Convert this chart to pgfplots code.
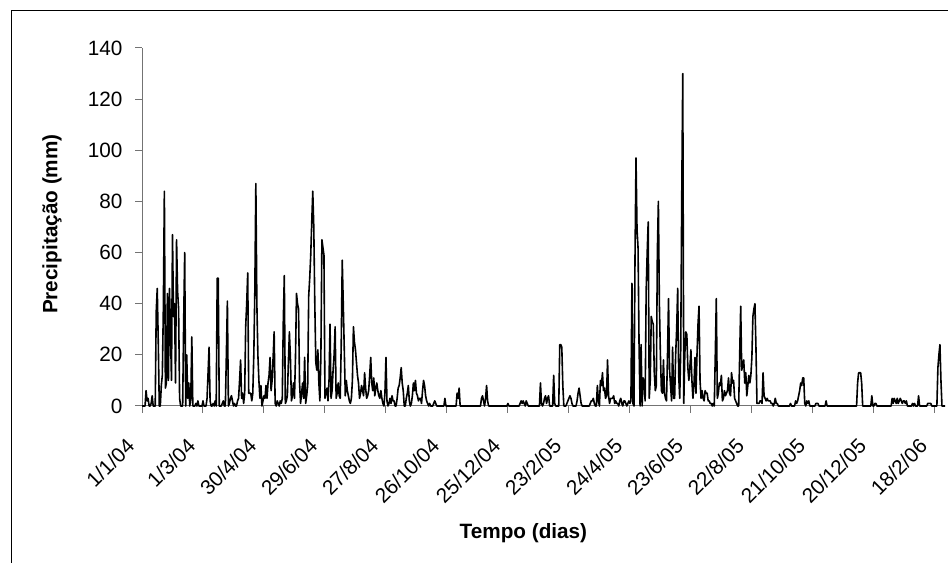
\documentclass[border=0pt]{standalone}
\usepackage{fontspec}
\setmainfont{Liberation Sans}
\usepackage{pgfplots}
\usepackage{pgfplotstable}
\pgfplotsset{compat=1.18}
% daily precipitation (mm), one value per day starting 1/1/04
\pgfplotstableread[row sep=\\]{mm\\
0\\0\\0\\0\\6\\2\\3\\0\\0\\1\\
4\\0\\0\\0\\37\\46\\25\\0\\0\\8\\
12\\38\\84\\7\\9\\44\\10\\46\\30\\10\\
67\\35\\40\\9\\65\\45\\38\\3\\0\\0\\
0\\33\\60\\0\\20\\3\\9\\0\\3\\27\\
0\\0\\0\\1\\0\\2\\0\\0\\0\\0\\
2\\0\\0\\0\\3\\13\\23\\2\\0\\0\\
1\\0\\2\\0\\50\\50\\0\\0\\0\\1\\
2\\0\\0\\20\\41\\0\\1\\3\\4\\2\\
0\\1\\0\\0\\2\\3\\10\\18\\3\\5\\
1\\5\\31\\40\\52\\5\\5\\5\\2\\5\\
20\\45\\87\\40\\20\\10\\3\\8\\0\\2\\
4\\3\\8\\3\\9\\12\\19\\6\\10\\19\\
29\\1\\0\\2\\1\\0\\2\\1\\3\\33\\
51\\1\\2\\4\\17\\29\\19\\2\\4\\9\\
3\\19\\44\\40\\38\\9\\1\\5\\9\\3\\
19\\1\\4\\8\\43\\50\\59\\72\\84\\70\\
40\\17\\14\\22\\9\\2\\20\\65\\62\\59\\
3\\5\\7\\2\\10\\32\\3\\6\\14\\20\\
31\\3\\5\\9\\4\\3\\24\\57\\40\\22\\
4\\10\\6\\4\\2\\1\\3\\10\\31\\25\\
22\\17\\12\\9\\3\\5\\8\\6\\4\\13\\
7\\3\\4\\6\\12\\19\\9\\6\\11\\4\\
7\\9\\6\\4\\3\\6\\3\\1\\0\\5\\
19\\2\\0\\1\\3\\1\\4\\2\\2\\0\\
0\\3\\7\\8\\11\\15\\9\\6\\0\\0\\
3\\5\\8\\2\\0\\1\\4\\9\\6\\10\\
5\\4\\2\\3\\3\\1\\6\\10\\8\\4\\
2\\1\\0\\1\\0\\0\\0\\1\\2\\1\\
0\\0\\0\\0\\0\\0\\0\\0\\3\\0\\
0\\0\\0\\0\\0\\0\\0\\0\\0\\0\\
5\\3\\7\\0\\0\\0\\0\\0\\0\\0\\
0\\0\\0\\0\\0\\0\\0\\0\\0\\0\\
0\\0\\0\\0\\3\\4\\2\\0\\3\\8\\
2\\0\\0\\0\\0\\0\\0\\0\\0\\0\\
0\\0\\0\\0\\0\\0\\0\\0\\0\\0\\
1\\0\\0\\0\\0\\0\\0\\0\\0\\0\\
0\\0\\1\\2\\1\\2\\1\\0\\2\\1\\
0\\0\\0\\0\\0\\0\\0\\0\\0\\0\\
0\\0\\9\\1\\0\\1\\3\\4\\1\\3\\
4\\0\\0\\0\\0\\12\\1\\0\\0\\0\\
0\\24\\24\\23\\8\\0\\0\\0\\1\\2\\
3\\4\\3\\1\\0\\0\\0\\0\\2\\5\\
7\\4\\1\\0\\0\\0\\0\\0\\0\\0\\
0\\1\\2\\2\\3\\1\\0\\0\\8\\2\\
0\\10\\8\\13\\6\\7\\3\\4\\18\\4\\
1\\3\\3\\3\\4\\1\\2\\1\\1\\0\\
2\\3\\1\\0\\2\\2\\1\\0\\1\\2\\
1\\2\\48\\1\\0\\57\\97\\69\\62\\24\\
0\\24\\0\\11\\9\\2\\45\\60\\72\\3\\
10\\35\\33\\32\\13\\6\\8\\60\\80\\40\\
20\\6\\5\\18\\5\\3\\2\\20\\42\\14\\
8\\2\\23\\3\\3\\20\\30\\46\\12\\3\\
22\\82\\130\\1\\20\\29\\28\\15\\10\\15\\
22\\10\\3\\8\\19\\5\\20\\32\\39\\10\\
3\\6\\3\\2\\6\\5\\5\\2\\2\\1\\
1\\0\\1\\0\\20\\42\\3\\5\\9\\8\\
12\\2\\3\\6\\4\\5\\6\\11\\5\\4\\
13\\9\\10\\3\\2\\1\\0\\0\\20\\39\\
14\\16\\18\\9\\13\\4\\8\\12\\9\\12\\
19\\35\\38\\40\\23\\1\\1\\1\\2\\2\\
1\\13\\4\\3\\2\\3\\2\\2\\2\\1\\
1\\0\\1\\3\\1\\1\\0\\0\\0\\0\\
0\\0\\0\\0\\0\\0\\0\\0\\1\\0\\
0\\0\\0\\2\\1\\2\\4\\6\\9\\8\\
11\\11\\1\\0\\2\\1\\2\\0\\0\\0\\
0\\0\\0\\1\\1\\1\\0\\0\\0\\0\\
0\\0\\0\\2\\0\\0\\0\\0\\0\\0\\
0\\0\\0\\0\\0\\0\\0\\0\\0\\0\\
0\\0\\0\\0\\0\\0\\0\\0\\0\\0\\
0\\0\\0\\0\\9\\13\\13\\13\\9\\0\\
0\\0\\0\\0\\0\\0\\0\\0\\4\\0\\
0\\1\\1\\0\\0\\0\\0\\0\\0\\0\\
0\\0\\0\\0\\0\\0\\0\\0\\3\\1\\
3\\2\\1\\3\\1\\2\\3\\2\\1\\2\\
2\\1\\2\\0\\0\\0\\0\\0\\1\\0\\
1\\0\\0\\0\\4\\0\\0\\0\\0\\0\\
0\\0\\0\\1\\1\\1\\1\\0\\0\\0\\
0\\0\\0\\15\\20\\24\\10\\0\\0\\0\\
0\\
}\rain
\begin{document}
\begin{tikzpicture}[x=1bp,y=1bp]
\useasboundingbox (0,0) rectangle (948,563);
\draw[line width=1bp, black] (11,0) -- (11,552) -- (948,552);
\begin{axis}[
  at={(142bp,157bp)}, anchor=south west,
  scale only axis, width=803bp, height=358bp,
  xmin=0, xmax=790, ymin=0, ymax=140,
  axis x line=bottom, axis y line=left,
  axis line style={-, draw=gray!90!black, line width=1bp},
  tick align=outside, major tick length=7bp,
  tick style={draw=gray!90!black, line width=1bp},
  minor tick num=0,
  xtick={0,60,...,780},
  xticklabels={1/1/04,1/3/04,30/4/04,29/6/04,27/8/04,26/10/04,25/12/04,23/2/05,24/4/05,23/6/05,22/8/05,21/10/05,20/12/05,18/2/06},
  ytick={0,20,...,140},
  /pgf/number format/assume math mode=true,
  tick label style={font=\fontsize{20.8}{24}\selectfont, black},
  xticklabel style={xshift=-9bp, yshift=-27bp, rotate=45, anchor=east},
  yticklabel style={anchor=east, xshift=-9bp},
  xlabel={Tempo (dias)},
  ylabel={Precipitação (mm)},
  label style={font=\bfseries\fontsize{20.8}{24}\selectfont},
  xlabel style={at={(axis description cs:0.475,-0.369)}, anchor=base},
  ylabel style={at={(axis description cs:-0.112,0.508)}, anchor=center, rotate=0},
  clip=false,
]
\addplot[black, line width=1.6bp, line join=round, mark=none] table[x expr=\coordindex, y=mm] {\rain};
\end{axis}
\end{tikzpicture}
\end{document}
